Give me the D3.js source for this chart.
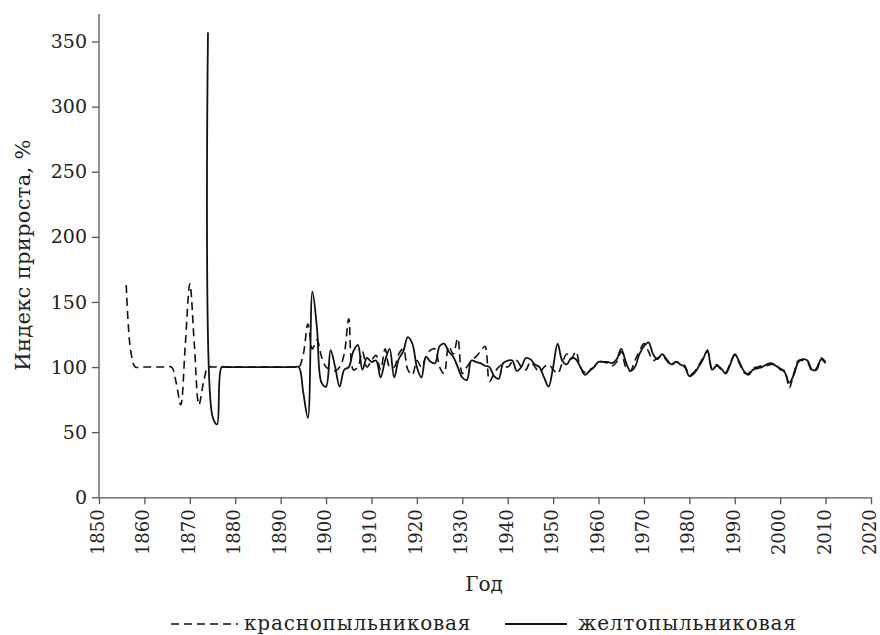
<!DOCTYPE html>
<html>
<head>
<meta charset="utf-8">
<script src="https://cdn.jsdelivr.net/npm/d3@7"></script>
<style>
  body { margin: 0; background: #fff; }
  svg text { font-family: "DejaVu Serif", "Liberation Serif", serif !important; fill: #222; }
</style>
</head>
<body>
<div id="chart"></div>
<script>
// tick labels
var xTicks = [1850, 1860, 1870, 1880, 1890, 1900, 1910, 1920, 1930, 1940, 1950, 1960, 1970, 1980, 1990, 2000, 2010, 2020];
var yTicks = [0, 50, 100, 150, 200, 250, 300, 350];

// красноп. (dashed) series
var redYears = [1856, 1857, 1858, 1859, 1860, 1861, 1862, 1863, 1864, 1865, 1866, 1867, 1868, 1869, 1870, 1871, 1872, 1873, 1874,
  1875, 1876, 1877, 1878, 1879, 1880, 1881, 1882, 1883, 1884, 1885, 1886, 1887, 1888, 1889, 1890, 1891, 1892, 1893, 1894,
  1895, 1896, 1897, 1898, 1899, 1900, 1901, 1902, 1903, 1904, 1905, 1906, 1907, 1908, 1909, 1910, 1911, 1912, 1913, 1914,
  1915, 1916, 1917, 1918, 1919, 1920, 1921, 1922, 1923, 1924, 1925, 1926, 1927, 1928, 1929, 1930, 1931, 1932, 1933, 1934,
  1935, 1936, 1937, 1938, 1939, 1940, 1941, 1942, 1943, 1944, 1945, 1946, 1947, 1948, 1949, 1950, 1951, 1952, 1953, 1954,
  1955, 1956, 1957, 1958, 1959, 1960, 1961, 1962, 1963, 1964, 1965, 1966, 1967, 1968, 1969, 1970, 1971, 1972, 1973, 1974,
  1975, 1976, 1977, 1978, 1979, 1980, 1981, 1982, 1983, 1984, 1985, 1986, 1987, 1988, 1989, 1990, 1991, 1992, 1993, 1994,
  1995, 1996, 1997, 1998, 1999, 2000, 2001, 2002, 2003, 2004, 2005, 2006, 2007, 2008, 2009, 2010];
var redValues = [163, 112, 100, 100, 100, 100, 100, 100, 100, 100, 100, 88, 71, 117, 164, 117, 71, 88, 100,
  100, 100, 100, 100, 100, 100, 100, 100, 100, 100, 100, 100, 100, 100, 100, 100, 100, 100, 100, 100,
  110, 133, 114, 121, 108, 100, 98, 97, 100, 110, 137, 98, 100, 112, 100, 105, 109, 98, 114, 100,
  100, 110, 114, 98, 94, 105, 100, 108, 113, 114, 100, 95, 116, 110, 122, 95, 100, 105, 108, 112,
  116, 89, 95, 100, 102, 100, 104, 105, 100, 98, 104, 100, 96, 100, 102, 98, 95, 103, 110, 106,
  112, 100, 96, 98, 100, 104, 104, 103, 101, 104, 112, 100, 97, 105, 112, 118, 112, 105, 107, 109,
  105, 101, 104, 103, 101, 94, 96, 101, 107, 112, 99, 102, 98, 96, 103, 109, 103, 96, 95, 99,
  100, 101, 101, 102, 102, 98, 97, 84, 95, 105, 105, 104, 97, 99, 107, 104];

// желтоп. (solid) series
var yellowYears = [1874, 1875, 1876, 1877, 1878, 1879, 1880, 1881, 1882, 1883, 1884, 1885, 1886, 1887, 1888, 1889, 1890, 1891, 1892, 1893, 1894,
  1895, 1896, 1897, 1898, 1899, 1900, 1901, 1902, 1903, 1904, 1905, 1906, 1907, 1908, 1909, 1910, 1911, 1912, 1913, 1914,
  1915, 1916, 1917, 1918, 1919, 1920, 1921, 1922, 1923, 1924, 1925, 1926, 1927, 1928, 1929, 1930, 1931, 1932, 1933, 1934,
  1935, 1936, 1937, 1938, 1939, 1940, 1941, 1942, 1943, 1944, 1945, 1946, 1947, 1948, 1949, 1950, 1951, 1952, 1953, 1954,
  1955, 1956, 1957, 1958, 1959, 1960, 1961, 1962, 1963, 1964, 1965, 1966, 1967, 1968, 1969, 1970, 1971, 1972, 1973, 1974,
  1975, 1976, 1977, 1978, 1979, 1980, 1981, 1982, 1983, 1984, 1985, 1986, 1987, 1988, 1989, 1990, 1991, 1992, 1993, 1994,
  1995, 1996, 1997, 1998, 1999, 2000, 2001, 2002, 2003, 2004, 2005, 2006, 2007, 2008, 2009, 2010];
var yellowValues = [357, 62, 56, 100, 100, 100, 100, 100, 100, 100, 100, 100, 100, 100, 100, 100, 100, 100, 100, 100, 100,
  80, 61, 158, 130, 88, 85, 113, 100, 85, 98, 100, 112, 117, 98, 107, 104, 105, 92, 105, 114,
  92, 106, 112, 123, 118, 100, 92, 108, 104, 103, 116, 118, 112, 108, 100, 92, 90, 105, 104, 103,
  101, 100, 93, 91, 103, 105, 105, 97, 100, 107, 106, 102, 100, 92, 85, 100, 118, 105, 102, 107,
  106, 100, 94, 97, 100, 104, 104, 104, 103, 106, 114, 104, 97, 100, 110, 116, 119, 110, 106, 110,
  106, 102, 104, 102, 100, 93, 95, 100, 106, 113, 98, 101, 99, 95, 102, 110, 104, 97, 94, 98,
  99, 100, 102, 103, 101, 99, 96, 88, 94, 104, 106, 105, 98, 98, 106, 103];

var seriesNames = ["краснопыльниковая", "желтопыльниковая"];

var margin = { top: 14, right: 9, bottom: 138, left: 99 };
var serif = "'DejaVu Serif', 'Liberation Serif', serif";

var svg = d3.select("#chart")
    .append("svg")
    .attr("width", 880)
    .attr("height", 635);

var g = svg.append("g")
    .attr("transform", "translate(" + margin.left + "," + margin.top + ")");

var x = d3.scaleLinear()
    .domain([1850, 2020])
    .range([0, 772]);

var y = d3.scaleLinear()
    .domain([0, 350])
    .range([483.3, 27.5]);

// axes
var xAxis = g.append("g")
    .attr("transform", "translate(0," + y(0) + ")")
    .call(d3.axisBottom(x).tickValues(xTicks).tickFormat(d3.format("d")).tickSize(7).tickSizeOuter(0));
xAxis.attr("font-family", serif);
xAxis.selectAll("text")
    .attr("transform", "rotate(-90)")
    .attr("x", -12)
    .attr("y", 0)
    .attr("dy", "0.25em")
    .style("text-anchor", "end")
    .style("font-size", "18px");

var yAxis = g.append("g")
    .call(d3.axisLeft(y).tickValues(yTicks).tickSize(7).tickSizeOuter(0));
yAxis.attr("font-family", serif);
yAxis.selectAll("text")
    .attr("x", -12)
    .style("font-size", "19px");
yAxis.select(".domain").attr("d", "M0," + y(0) + "V0");

g.selectAll(".domain, .tick line").attr("stroke", "#555").attr("stroke-width", 1.3);

// lines
var line = d3.line()
    .x(function (d) { return x(d[0]); })
    .y(function (d) { return y(d[1]); })
    .curve(d3.curveCatmullRom.alpha(0.5));

var redData = d3.zip(redYears, redValues);
var yellowData = d3.zip(yellowYears, yellowValues);

g.append("path")
    .datum(redData)
    .attr("fill", "none")
    .attr("stroke", "#111")
    .attr("stroke-width", 1.6)
    .attr("stroke-dasharray", "8,5")
    .attr("d", line);

g.append("path")
    .datum(yellowData)
    .attr("fill", "none")
    .attr("stroke", "#111")
    .attr("stroke-width", 1.8)
    .attr("d", line);

// axis titles
svg.append("text")
    .attr("transform", "translate(30,255) rotate(-90)")
    .style("text-anchor", "middle")
    .style("font-size", "21px")
    .style("letter-spacing", "0.3px")
    .text("Индекс прироста, %");

svg.append("text")
    .attr("x", 484)
    .attr("y", 591)
    .style("text-anchor", "middle")
    .style("font-size", "20px")
    .text("Год");

// legend
var legend = svg.append("g").attr("transform", "translate(0,624)");
legend.append("line")
    .attr("x1", 171).attr("x2", 238).attr("y1", 0).attr("y2", 0)
    .attr("stroke", "#111").attr("stroke-width", 1.6).attr("stroke-dasharray", "8,5");
legend.append("text")
    .attr("x", 244).attr("y", 6)
    .style("font-size", "20px")
    .style("letter-spacing", "0.8px")
    .text(seriesNames[0]);
legend.append("line")
    .attr("x1", 505).attr("x2", 567).attr("y1", 0).attr("y2", 0)
    .attr("stroke", "#111").attr("stroke-width", 1.8);
legend.append("text")
    .attr("x", 578).attr("y", 6)
    .style("font-size", "20px")
    .style("letter-spacing", "0.8px")
    .text(seriesNames[1]);
</script>
</body>
</html>
